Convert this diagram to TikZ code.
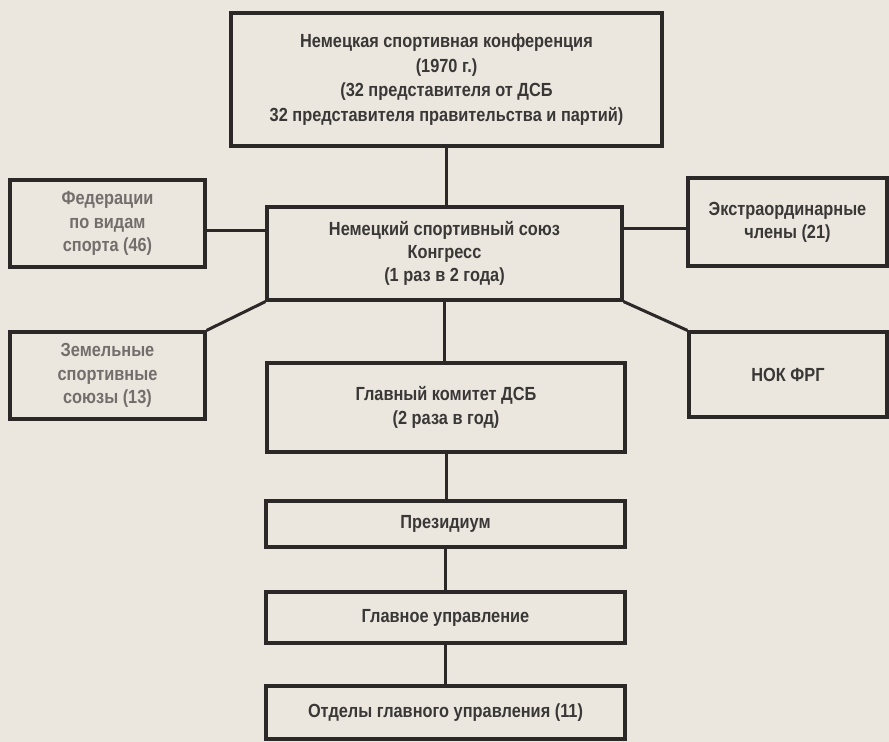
\documentclass[tikz,border=0pt]{standalone}
\usepackage{fontspec}
\setmainfont{Liberation Sans}[FakeStretch=0.86]
\definecolor{paper}{RGB}{236, 231, 222}
\definecolor{ink}{RGB}{45, 40, 40}
\definecolor{inktext}{RGB}{58, 55, 55}
\definecolor{fadetext}{RGB}{115, 110, 108}
\usepackage{tikz}

\tikzset{
  orgbox/.style={draw=ink, line width=1.6pt, fill=paper, align=center, inner sep=2pt,
    text=inktext, font=\bfseries\fontsize{9.5}{11.6}\selectfont},
  link/.style={draw=ink, line width=1.5pt}
}

\begin{document}
\begin{tikzpicture}[x=0.5pt, y=-0.5pt]
  % paper and frame of the page
  \fill[paper] (0, 0) rectangle (889, 742);
  \useasboundingbox (0, 0) rectangle (889, 742);

  % Conference on top
  \node[orgbox, minimum width=215.5pt, minimum height=66.5pt, font=\bfseries\fontsize{9.5}{12.4}\selectfont] (conf) at (446.5, 79.5) {Немецкая спортивная конференция\\(1970 г.)\\(32 представителя от ДСБ\\32 представителя правительства и партий)};

  % Congress and its members
  \node[orgbox, minimum width=177.5pt, minimum height=46.5pt] (congress) at (444.5, 253.5) {Немецкий спортивный союз\\Конгресс\\(1 раз в 2 года)};
  \node[orgbox, minimum width=97.5pt, minimum height=43.5pt, text=fadetext] (feder) at (107.5, 223.5) {Федерации\\по видам\\спорта (46)};
  \node[orgbox, minimum width=97.5pt, minimum height=43.5pt, text=fadetext] (lands) at (107.5, 375.5) {Земельные\\спортивные\\союзы (13)};
  \node[orgbox, minimum width=99.5pt, minimum height=44pt] (extra) at (787.5, 222) {Экстраординарные\\члены (21)};
  \node[orgbox, minimum width=99pt, minimum height=42.5pt] (nok) at (788, 374.5) {НОК ФРГ};

  % Chain of command
  \node[orgbox, minimum width=179pt, minimum height=44.5pt] (committee) at (446, 407.5) {Главный комитет ДСБ\\(2 раза в год)};
  \node[orgbox, minimum width=179.5pt, minimum height=23pt] (presid) at (445.5, 524) {Президиум};
  \node[orgbox, minimum width=179.5pt, minimum height=25.5pt] (mainadm) at (445.5, 617.5) {Главное управление};
  \node[orgbox, minimum width=179.5pt, minimum height=26.5pt] (depts) at (445.5, 712.5) {Отделы главного управления (11)};

  % Links
  \draw[link] (conf.south) -- (conf.south |- congress.north);
  \draw[link] (feder.east) ++(0, 7) -- (congress.west |- 0, 230.5);
  \draw[link] (congress.east |- 0, 229) -- (extra.west |- 0, 229);
  \draw[link] (lands.north east) -- (congress.south west);
  \draw[link] (congress.south east) -- (nok.north west);
  \draw[link] (congress.south) -- (congress.south |- committee.north);
  \draw[link] (committee.south) -- (committee.south |- presid.north);
  \draw[link] (presid.south) -- (presid.south |- mainadm.north);
  \draw[link] (mainadm.south) -- (mainadm.south |- depts.north);
\end{tikzpicture}
\end{document}
